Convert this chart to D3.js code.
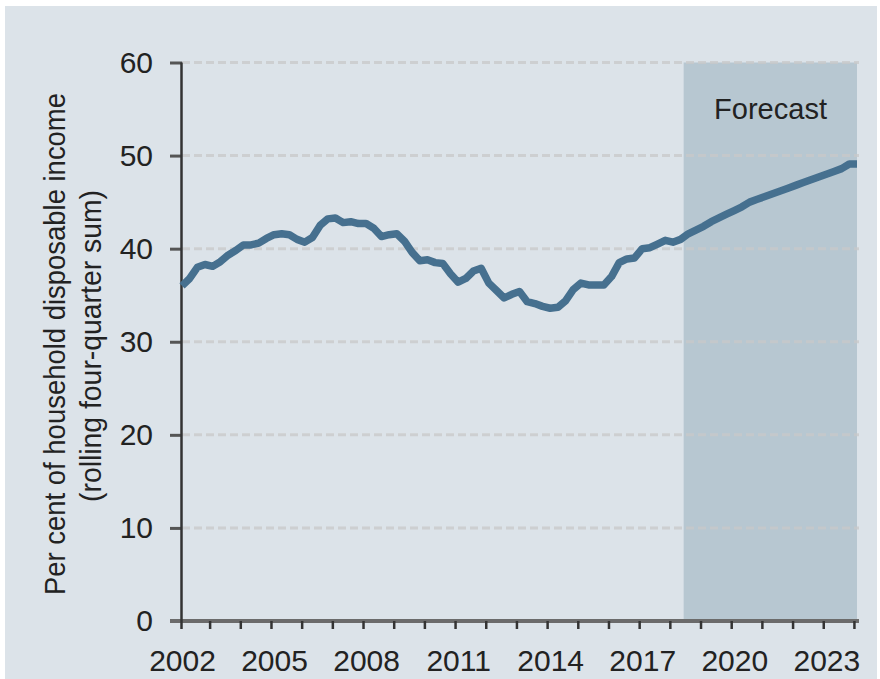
<!DOCTYPE html>
<html>
<head>
<meta charset="utf-8">
<script src="https://cdn.jsdelivr.net/npm/d3@7"></script>
<style>
  body { margin: 0; background: #fff; }
  svg text { font-family: "Liberation Sans", Arial, sans-serif; fill: #222; }
</style>
</head>
<body>
<div id="chart"></div>
<script>
// quarterly series, 2002Q1 .. 2024Q1 (per cent of household disposable income)
var startYear = 2002;
var debtValues = [
  36.0, 36.8, 38.0, 38.3,
  38.1, 38.6, 39.3, 39.8,
  40.4, 40.4, 40.6, 41.1,
  41.5, 41.6, 41.5, 41.0,
  40.7, 41.2, 42.5, 43.2,
  43.3, 42.8, 42.9, 42.7,
  42.7, 42.2, 41.3, 41.5,
  41.6, 40.8, 39.6, 38.7,
  38.8, 38.5, 38.4, 37.3,
  36.4, 36.8, 37.6, 37.9,
  36.3, 35.5, 34.7, 35.1,
  35.4, 34.3, 34.1, 33.8,
  33.6, 33.7, 34.4, 35.6,
  36.3, 36.1, 36.1, 36.1,
  37.0, 38.5, 38.9, 39.0,
  40.0, 40.1, 40.5, 40.9,
  40.7, 41.0, 41.6, 42.0,
  42.4, 42.9, 43.3, 43.7,
  44.1, 44.5, 45.0, 45.3,
  45.6, 45.9, 46.2, 46.5,
  46.8, 47.1, 47.4, 47.7,
  48.0, 48.3, 48.6, 49.1,
  49.1
];
var forecastStart = 2018.35;
var xLabelYears = [2002, 2005, 2008, 2011, 2014, 2017, 2020, 2023];
var xTickYears = d3.range(2002, 2024);
var yTicks = [0, 10, 20, 30, 40, 50, 60];
var yTitle1 = "Per cent of household disposable income";
var yTitle2 = "(rolling four-quarter sum)";
var forecastLabel = "Forecast";

var width = 880,
    height = 679;

var x = d3.scaleLinear().domain([2002, 2024]).range([182, 857]);
var y = d3.scaleLinear().domain([0, 60]).range([621, 62.5]);

var svg = d3.select('#chart')
    .append('svg')
    .attr('width', width)
    .attr('height', height);

// panel background
svg.append('rect')
    .attr('x', 5).attr('y', 6)
    .attr('width', 872).attr('height', height - 6)
    .attr('fill', '#dce3e9');

// forecast shading
svg.append('rect')
    .attr('x', x(forecastStart))
    .attr('y', y(60))
    .attr('width', x(2024) - x(forecastStart))
    .attr('height', y(0) - y(60))
    .attr('fill', '#b7c7d1');

// dashed gridlines
svg.append('g')
    .selectAll('line')
    .data(yTicks.filter(function(d) { return d > 0; }))
    .enter().append('line')
    .attr('x1', 182).attr('x2', 859)
    .attr('y1', function(d) { return y(d); })
    .attr('y2', function(d) { return y(d); })
    .attr('stroke', '#c8c8c8')
    .attr('stroke-opacity', 0.75)
    .attr('stroke-width', 3)
    .attr('stroke-dasharray', '8,4');

// y axis ticks + labels
var yAxis = svg.append('g')
    .attr('transform', 'translate(182,0)')
    .call(d3.axisLeft(y).tickValues(yTicks).tickSize(12).tickPadding(17));
yAxis.select('.domain').remove();
yAxis.selectAll('line').attr('stroke', '#555').attr('stroke-width', 3);
yAxis.selectAll('text').style('font-size', '30px').attr('fill', '#222');

// x axis baseline
svg.append('line')
    .attr('x1', 170).attr('x2', 859)
    .attr('y1', y(0)).attr('y2', y(0))
    .attr('stroke', '#6b6b6b')
    .attr('stroke-width', 4);

// x tick marks
var xTicks = svg.append('g')
    .attr('transform', 'translate(0,' + y(0) + ')')
    .call(d3.axisBottom(x)
        .tickValues(xTickYears.map(function(d) { return d + 0.9; }))
        .tickSize(8)
        .tickFormat(''));
xTicks.select('.domain').remove();
xTicks.selectAll('line').attr('stroke', '#333').attr('stroke-width', 2.5);

// x labels
var xLabels = svg.append('g')
    .attr('transform', 'translate(0,' + y(0) + ')')
    .call(d3.axisBottom(x)
        .tickValues(xLabelYears)
        .tickSize(0)
        .tickPadding(29)
        .tickFormat(d3.format('d')));
xLabels.select('.domain').remove();
xLabels.selectAll('text').style('font-size', '30px').attr('fill', '#222');

// y axis line
svg.append('line')
    .attr('x1', 181.5).attr('x2', 181.5)
    .attr('y1', y(60)).attr('y2', 629)
    .attr('stroke', '#333')
    .attr('stroke-width', 2.5);

// series line
var line = d3.line()
    .x(function(d, i) { return x(startYear + i / 4); })
    .y(function(d) { return y(d); });

svg.append('path')
    .datum(debtValues)
    .attr('d', line)
    .attr('fill', 'none')
    .attr('stroke', '#46708f')
    .attr('stroke-width', 7.5)
    .attr('stroke-linejoin', 'round')
    .attr('stroke-linecap', 'butt');

// forecast label
svg.append('text')
    .attr('x', 714).attr('y', 119)
    .attr('textLength', 113)
    .attr('lengthAdjust', 'spacingAndGlyphs')
    .style('font-size', '30px')
    .text(forecastLabel);

// y axis title, two lines
svg.append('text')
    .attr('transform', 'translate(65,344) rotate(-90)')
    .attr('text-anchor', 'middle')
    .attr('textLength', 502)
    .attr('lengthAdjust', 'spacingAndGlyphs')
    .style('font-size', '30px')
    .text(yTitle1);

svg.append('text')
    .attr('transform', 'translate(101,346) rotate(-90)')
    .attr('text-anchor', 'middle')
    .attr('textLength', 312)
    .attr('lengthAdjust', 'spacingAndGlyphs')
    .style('font-size', '30px')
    .text(yTitle2);
</script>
</body>
</html>
